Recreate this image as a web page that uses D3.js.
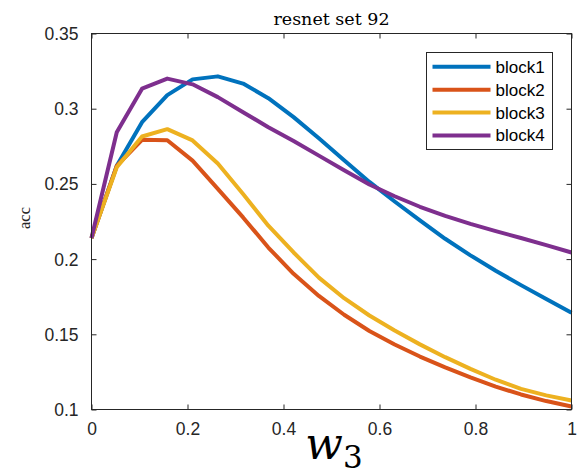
<!DOCTYPE html>
<html>
<head>
<meta charset="utf-8">
<script src="https://cdn.jsdelivr.net/npm/d3@7"></script>
<style>
  body { margin: 0; background: #fff; }
  svg { display: block; }
</style>
</head>
<body>
<svg width="585" height="469"></svg>
<script>
const svg = d3.select('svg');

// data (20 samples of w3 from 0 to 1)
const xValues = d3.range(20).map(i => i / 19);
const seriesNames = ['block1', 'block2', 'block3', 'block4'];
const block1 = [0.214, 0.262, 0.291, 0.309, 0.3195, 0.3215, 0.3167, 0.307, 0.2944, 0.2803,
  0.2657, 0.2513, 0.2383, 0.2257, 0.2135, 0.2025, 0.1923, 0.1827, 0.1734, 0.1644];
const block2 = [0.214, 0.262, 0.2793, 0.279, 0.2655, 0.2467, 0.2277, 0.2077, 0.1902, 0.1755,
  0.163, 0.1522, 0.1432, 0.1352, 0.128, 0.1213, 0.1152, 0.110, 0.1056, 0.102];
const block3 = [0.214, 0.261, 0.2815, 0.2864, 0.2789, 0.2635, 0.2433, 0.2222, 0.2044, 0.1877,
  0.174, 0.1625, 0.1525, 0.1433, 0.1348, 0.127, 0.1198, 0.1137, 0.1094, 0.106];
const block4 = [0.214, 0.2844, 0.3133, 0.320, 0.3162, 0.3077, 0.2977, 0.2877, 0.2785, 0.2688,
  0.2591, 0.2496, 0.2418, 0.2348, 0.2287, 0.2234, 0.2186, 0.214, 0.2093, 0.2044];
const seriesValues = [block1, block2, block3, block4];
const xTicks = [0, 0.2, 0.4, 0.6, 0.8, 1];
const yTicks = [0.1, 0.15, 0.2, 0.25, 0.3, 0.35];
const colors = ['#0072BD', '#D95319', '#EDB120', '#7E2F8E'];

const margin = { top: 33.5, right: 13.5, bottom: 59.5, left: 91.5 };
const width = +svg.attr('width');
const height = +svg.attr('height');
const innerWidth = width - margin.left - margin.right;
const innerHeight = height - margin.top - margin.bottom;

const xScale = d3.scaleLinear().domain([0, 1]).range([0, innerWidth]);
const yScale = d3.scaleLinear().domain([0.1, 0.35]).range([innerHeight, 0]);
const fmt = d3.format('~g');
const axisColor = '#262626';
const sans = 'Liberation Sans, Arial, sans-serif';
const tickFont = 17.5;

const g = svg.append('g')
  .attr('transform', `translate(${margin.left},${margin.top})`);

/* axes: MATLAB style, ticks pointing inward on all four sides */
const styleAxis = (sel, labelPos) => {
  sel.select('.domain').remove();
  sel.selectAll('line').attr('stroke', axisColor);
  if (!labelPos) {
    sel.selectAll('text').remove();
    return;
  }
  sel.selectAll('text')
    .attr('fill', axisColor)
    .attr('font-family', sans)
    .attr('font-size', tickFont)
    .attr('dy', null)
    .attr('x', labelPos.x)
    .attr('y', labelPos.y);
};

g.append('g')
  .attr('transform', `translate(0,${innerHeight})`)
  .call(d3.axisBottom(xScale).tickValues(xTicks).tickFormat(fmt).tickSize(-5))
  .call(sel => styleAxis(sel, { x: 0, y: 13 + 0.71 * tickFont }));

g.append('g')
  .call(d3.axisTop(xScale).tickValues(xTicks).tickSize(-5))
  .call(sel => styleAxis(sel, null));

g.append('g')
  .call(d3.axisLeft(yScale).tickValues(yTicks).tickFormat(fmt).tickSize(-5))
  .call(sel => styleAxis(sel, { x: -13, y: 0.34 * tickFont }));

g.append('g')
  .attr('transform', `translate(${innerWidth},0)`)
  .call(d3.axisRight(yScale).tickValues(yTicks).tickSize(-5))
  .call(sel => styleAxis(sel, null));

/* lines */
const line = d3.line()
  .x((d, i) => xScale(xValues[i]))
  .y(d => yScale(d));

g.selectAll('path.series')
  .data(seriesValues)
  .join('path')
    .attr('class', 'series')
    .attr('fill', 'none')
    .attr('stroke', (d, i) => colors[i])
    .attr('stroke-width', 4)
    .attr('stroke-linejoin', 'round')
    .attr('d', line);

// box
g.append('rect')
  .attr('width', innerWidth)
  .attr('height', innerHeight)
  .attr('fill', 'none')
  .attr('stroke', axisColor)
  .attr('stroke-width', 1);

/* title and labels */
svg.append('text')
  .attr('x', margin.left + innerWidth / 2)
  .attr('y', 25)
  .attr('text-anchor', 'middle')
  .attr('font-family', 'DejaVu Serif, serif')
  .attr('font-size', 17.5)
  .attr('fill', '#000')
  .text('resnet set 92');

svg.append('text')
  .attr('transform', `translate(30,218) rotate(-90)`)
  .attr('text-anchor', 'middle')
  .attr('font-family', 'Liberation Serif, serif')
  .attr('font-size', 16.5)
  .attr('fill', '#262626')
  .text('acc');

const xLabel = svg.append('text')
  .attr('x', 334)
  .attr('y', 459)
  .attr('text-anchor', 'middle')
  .attr('font-family', 'DejaVu Serif, serif')
  .attr('fill', '#000');
xLabel.append('tspan')
  .attr('font-style', 'italic')
  .attr('font-size', 44)
  .text('w');
xLabel.append('tspan')
  .attr('font-size', 31)
  .attr('dy', 9)
  .text('3');

/* legend */
const legend = svg.append('g')
  .attr('transform', 'translate(426.5,52.5)');

legend.append('rect')
  .attr('width', 126)
  .attr('height', 97)
  .attr('fill', '#fff')
  .attr('stroke', axisColor)
  .attr('stroke-width', 1);

const items = legend.selectAll('g.item')
  .data(seriesNames)
  .join('g')
    .attr('class', 'item')
    .attr('transform', (d, i) => `translate(0,${14.3 + i * 22.9})`);

items.append('line')
  .attr('x1', 6)
  .attr('x2', 64)
  .attr('stroke', (d, i) => colors[i])
  .attr('stroke-width', 4);

items.append('text')
  .attr('x', 69)
  .attr('dy', '0.35em')
  .attr('font-family', sans)
  .attr('font-size', 17)
  .attr('fill', '#000')
  .text(d => d);
</script>
</body>
</html>
